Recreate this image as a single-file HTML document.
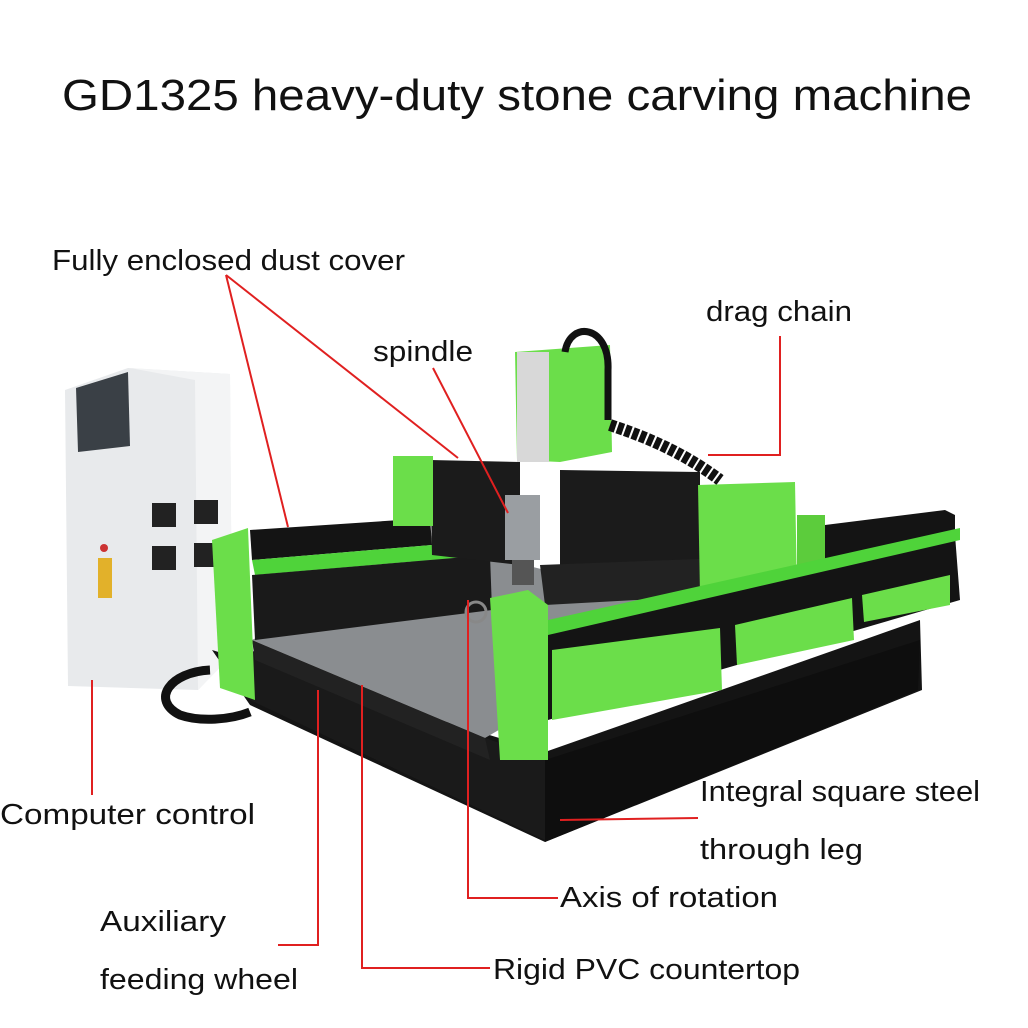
<!DOCTYPE html>
<html><head><meta charset="utf-8"><style>
html,body{margin:0;padding:0;background:#fff;}
svg{display:block}
text{font-family:"Liberation Sans",sans-serif;fill:#111}
</style></head><body>
<svg width="1028" height="1028" viewBox="0 0 1028 1028" xmlns="http://www.w3.org/2000/svg">
<rect width="1028" height="1028" fill="#fff"/>
<text x="62" y="110" font-size="44" textLength="910" lengthAdjust="spacingAndGlyphs">GD1325 heavy-duty stone carving machine</text>

<!-- cabinet -->
<polygon points="65,390 128,368 230,374 232,655 198,690 68,686" fill="#e8eaec"/>
<polygon points="130,368 230,374 232,655 198,690 195,380" fill="#f3f4f5"/>
<polygon points="76,388 128,372 130,446 78,452" fill="#3a4046"/>
<rect x="152" y="503" width="24" height="24" fill="#222"/>
<rect x="194" y="500" width="24" height="24" fill="#222"/>
<rect x="152" y="546" width="24" height="24" fill="#222"/>
<rect x="194" y="543" width="24" height="24" fill="#222"/>
<rect x="98" y="558" width="14" height="40" fill="#e2b12a"/>
<circle cx="104" cy="548" r="4" fill="#c33"/>
<path d="M210,670 C170,672 150,700 180,715 C200,722 230,720 250,712" stroke="#111" stroke-width="9" fill="none"/>

<!-- base -->
<polygon points="212,650 545,752 920,620 922,690 545,842 250,705" fill="#141414"/>
<polygon points="250,700 545,840 545,760 250,650" fill="#1a1a1a"/>
<polygon points="545,760 920,640 918,690 545,842" fill="#0e0e0e"/>
<!-- table -->
<polygon points="252,640 485,738 705,610 445,545" fill="#8a8d90"/>
<polygon points="252,640 485,738 490,760 255,660" fill="#222"/>

<!-- back rails -->
<polygon points="250,530 430,518 432,545 252,560" fill="#141414"/>
<polygon points="252,560 432,545 490,555 255,575" fill="#4fd33a"/>
<polygon points="252,575 490,555 492,610 255,640" fill="#1a1a1a"/>
<!-- gantry bellows -->
<polygon points="430,460 520,462 520,565 432,555" fill="#1b1b1b"/>
<polygon points="560,470 700,472 700,560 560,565" fill="#1b1b1b"/>
<polygon points="540,565 725,558 728,595 545,605" fill="#222"/>
<rect x="393" y="456" width="40" height="70" fill="#6bde4a"/>
<!-- spindle column -->
<polygon points="515,352 610,345 612,452 560,462 517,460" fill="#6bde4a"/>
<rect x="517" y="352" width="32" height="110" fill="#d8d8d8"/>
<rect x="505" y="495" width="35" height="65" fill="#9a9ea2"/>
<rect x="512" y="560" width="22" height="25" fill="#555"/>
<path d="M565,352 C570,320 610,325 608,370 L608,420" stroke="#111" stroke-width="7" fill="none"/>
<path d="M610,425 C640,435 680,450 720,480" stroke="#111" stroke-width="12" fill="none" stroke-dasharray="6,2"/>
<!-- right block -->
<polygon points="698,485 795,482 797,590 700,595" fill="#6bde4a"/>
<polygon points="797,515 825,515 825,580 797,590" fill="#5ccc3c"/>
<!-- right rail -->
<polygon points="825,525 945,510 955,515 955,540 825,560" fill="#141414"/>
<polygon points="548,625 955,535 960,600 548,720" fill="#141414"/>
<polygon points="552,650 720,628 722,690 552,720" fill="#6bde4a"/>
<polygon points="735,625 852,598 854,640 737,665" fill="#6bde4a"/>
<polygon points="862,595 950,575 950,605 864,622" fill="#6bde4a"/>
<polygon points="548,620 960,528 960,540 548,635" fill="#4fd33a"/>
<!-- posts -->
<polygon points="212,540 248,528 255,700 220,688" fill="#6bde4a"/>
<polygon points="490,598 528,590 548,605 548,760 500,760" fill="#6bde4a"/>
<circle cx="476" cy="612" r="10" stroke="#888" stroke-width="3" fill="none"/>

<!-- red lines -->
<g stroke="#e02020" stroke-width="2" fill="none">
<line x1="226" y1="275" x2="288" y2="527"/>
<line x1="226" y1="275" x2="458" y2="458"/>
<line x1="433" y1="368" x2="508" y2="513"/>
<polyline points="780,336 780,455 708,455"/>
<line x1="92" y1="680" x2="92" y2="795"/>
<line x1="560" y1="820" x2="698" y2="818"/>
<polyline points="468,600 468,898 558,898"/>
<polyline points="318,690 318,945 278,945"/>
<polyline points="362,685 362,968 490,968"/>
</g>

<g font-size="29">
<text x="52" y="270" textLength="353" lengthAdjust="spacingAndGlyphs">Fully enclosed dust cover</text>
<text x="706" y="321" textLength="146" lengthAdjust="spacingAndGlyphs">drag chain</text>
<text x="373" y="361" textLength="100" lengthAdjust="spacingAndGlyphs">spindle</text>
<text x="0" y="824" textLength="255" lengthAdjust="spacingAndGlyphs">Computer control</text>
<text x="700" y="801" textLength="280" lengthAdjust="spacingAndGlyphs">Integral square steel</text>
<text x="700" y="859" textLength="163" lengthAdjust="spacingAndGlyphs">through leg</text>
<text x="560" y="907" textLength="218" lengthAdjust="spacingAndGlyphs">Axis of rotation</text>
<text x="100" y="931" textLength="126" lengthAdjust="spacingAndGlyphs">Auxiliary</text>
<text x="100" y="989" textLength="198" lengthAdjust="spacingAndGlyphs">feeding wheel</text>
<text x="493" y="979" textLength="307" lengthAdjust="spacingAndGlyphs">Rigid PVC countertop</text>
</g>
</svg>
</body></html>
